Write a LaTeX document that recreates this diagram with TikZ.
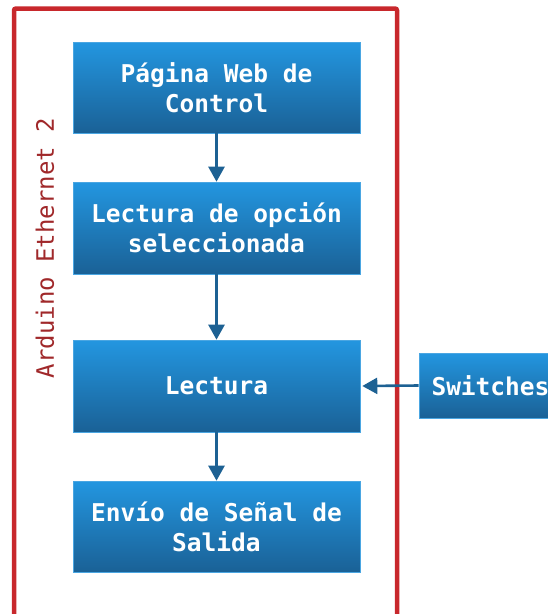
\documentclass[tikz,border=0pt]{standalone}
\usepackage{fontspec}
\newfontfamily\monofam{DejaVu Sans Mono}
\usetikzlibrary{arrows.meta}
\definecolor{boxtop}{HTML}{2396E0}
\definecolor{boxbot}{HTML}{1A6196}
\definecolor{boxedge}{HTML}{4AA6E2}
\definecolor{arrowc}{HTML}{1D6193}
\definecolor{framec}{HTML}{C8282C}
\definecolor{labelc}{HTML}{A0282A}
\tikzset{
  stepbox/.style={rectangle, top color=boxtop, bottom color=boxbot, draw=boxedge, line width=0.6pt,
    text=white, align=center, inner sep=0pt,
    font=\monofam\bfseries\fontsize{24.5}{30}\selectfont},
  flow/.style={draw=arrowc, line width=2.6pt, -{Triangle[length=15pt,width=16pt]}},
  frame/.style={draw=framec, line width=4.5pt, rounded corners=2pt},
  framelabel/.style={text=labelc, font=\monofam\fontsize{24}{28}\selectfont, rotate=90}
}
\begin{document}
\begin{tikzpicture}[x=1pt,y=-1pt]
\useasboundingbox (0,0) rectangle (548,614);
\clip (0,0) rectangle (548,614);
\draw[frame] (14,630) -- (14,8.5) -- (397,8.5) -- (397,630);
\node[framelabel] (lbl) at (45,248) {Arduino Ethernet 2};
\node[stepbox, minimum width=287pt, minimum height=91pt] (b1) at (216.5,87.5) {Página Web de\\Control};
\node[stepbox, minimum width=287pt, minimum height=92pt] (b2) at (216.5,228) {Lectura de opción\\seleccionada};
\node[stepbox, minimum width=287pt, minimum height=92pt] (b3) at (216.5,386) {Lectura};
\node[stepbox, minimum width=287pt, minimum height=91pt] (b4) at (216.5,526.5) {Envío de Señal de\\Salida};
\node[stepbox, minimum width=143pt, minimum height=65pt] (sw) at (490.5,385.5) {Switches};
\draw[flow] (b1.south) -- (b2.north);
\draw[flow] (b2.south) -- (b3.north);
\draw[flow] (b3.south) -- (b4.north);
\draw[flow] (sw.west) -- ([xshift=2pt]b3.east);
\end{tikzpicture}
\end{document}
